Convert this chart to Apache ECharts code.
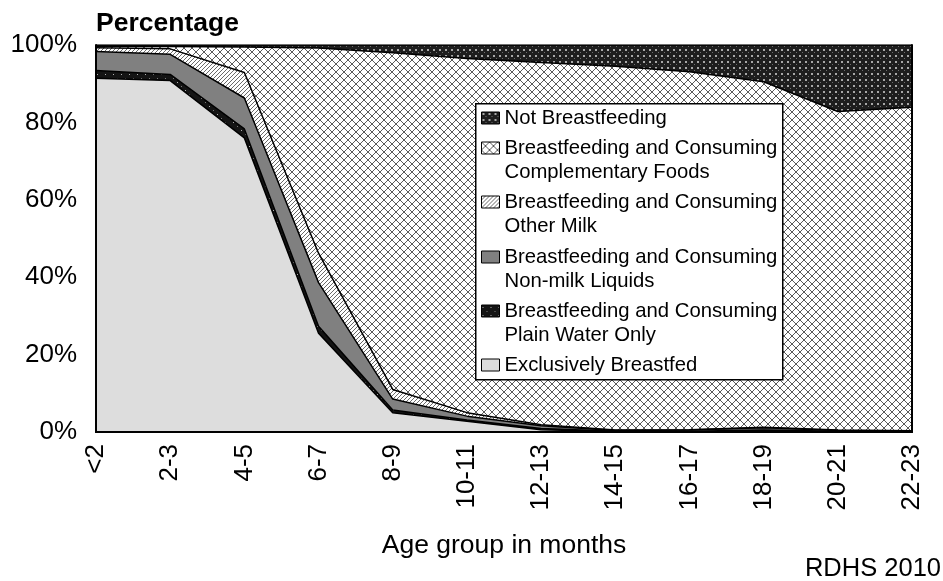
<!DOCTYPE html>
<html><head><meta charset="utf-8">
<script src="https://cdn.jsdelivr.net/npm/echarts@6/dist/echarts.min.js"></script>
<style>html,body{margin:0;padding:0;background:#fff}#c{width:943px;height:581px}</style>
</head><body><div id="c"></div>
<script>
const categories = ['<2','2-3','4-5','6-7','8-9','10-11','12-13','14-15','16-17','18-19','20-21','22-23'];
const exclusive        = [91.4, 90.8, 76.0, 25.5, 5.0, 2.8, 0.6, 0.1, 0.0, 0.0, 0.0, 0.0];
const plainWater       = [2.0, 1.6, 2.3, 1.8, 0.7, 0.3, 0.3, 0.1, 0.2, 0.5, 0.2, 0.1];
const nonMilk          = [4.9, 5.2, 8.0, 11.3, 2.8, 1.0, 0.7, 0.2, 0.3, 0.6, 0.2, 0.1];
const otherMilk        = [1.0, 1.4, 6.6, 7.6, 2.5, 0.9, 0.3, 0.1, 0.1, 0.1, 0.1, 0.1];
const complementary    = [0.4, 0.6, 6.6, 53.0, 87.0, 91.5, 93.6, 94.0, 92.5, 89.3, 82.3, 83.6];
const notBreastfeeding = [0.3, 0.4, 0.5, 0.8, 2.0, 3.5, 4.5, 5.5, 6.9, 9.5, 17.2, 16.1];
const yTicks = [0, 20, 40, 60, 80, 100];

const FONT = "'Liberation Sans', Arial, sans-serif";

function pattern(w, h, draw) {
  const c = document.createElement('canvas');
  c.width = w; c.height = h;
  const g = c.getContext('2d');
  draw(g, w, h);
  return { image: c, repeat: 'repeat' };
}
const pCross = pattern(8, 8, g => {
  g.fillStyle = '#fff'; g.fillRect(0, 0, 8, 8);
  g.fillStyle = '#5a5a5a';
  for (let i = 0; i < 8; i++) { g.fillRect(i, i, 1, 1); g.fillRect(7 - i, i, 1, 1); }
});
const pHatch = pattern(4, 4, g => {
  g.fillStyle = '#fff'; g.fillRect(0, 0, 4, 4);
  g.fillStyle = '#6a6a6a';
  for (let i = 0; i < 4; i++) g.fillRect(3 - i, i, 1, 1);
});
const pNotBF = pattern(6, 6, g => {
  g.fillStyle = '#1e1e1e'; g.fillRect(0, 0, 6, 6);
  g.fillStyle = '#a8a8a8'; g.fillRect(1, 1, 2, 2);
  g.fillStyle = '#707070'; g.fillRect(4, 4, 1, 1);
});
const pWater = pattern(8, 8, g => {
  g.fillStyle = '#141414'; g.fillRect(0, 0, 8, 8);
  g.fillStyle = '#b0b0b0'; g.fillRect(1, 2, 1, 1);
  g.fillStyle = '#7a7a7a'; g.fillRect(5, 6, 1, 1);
});

const defs = [
  { name: 'Exclusively Breastfed', label: 'Exclusively Breastfed', data: exclusive, fill: '#dddddd', two: false },
  { name: 'Breastfeeding and Consuming Plain Water Only', label: 'Breastfeeding and Consuming\nPlain Water Only', data: plainWater, fill: pWater, two: true },
  { name: 'Breastfeeding and Consuming Non-milk Liquids', label: 'Breastfeeding and Consuming\nNon-milk Liquids', data: nonMilk, fill: '#808080', two: true },
  { name: 'Breastfeeding and Consuming Other Milk', label: 'Breastfeeding and Consuming\nOther Milk', data: otherMilk, fill: pHatch, two: true },
  { name: 'Breastfeeding and Consuming Complementary Foods', label: 'Breastfeeding and Consuming\nComplementary Foods', data: complementary, fill: pCross, two: true },
  { name: 'Not Breastfeeding', label: 'Not Breastfeeding', data: notBreastfeeding, fill: pNotBF, two: false }
];

const legendOrder = defs.slice().reverse();
const legendTops = [106, 136, 190, 245, 299, 353];

const legends = legendOrder.map((d, i) => ({
  show: true,
  left: 481,
  top: legendTops[i],
  orient: 'vertical',
  padding: 0,
  itemWidth: 18,
  itemHeight: d.two ? 36 : 12,
  icon: d.two ? 'path://M0,0L18,0L18,12L0,12Z M0,36' : 'rect',
  selectedMode: false,
  z: 20,
  data: [{ name: d.name, itemStyle: { color: d.fill, borderColor: '#000', borderWidth: 1 } }],
  formatter: () => d.label,
  textStyle: { fontSize: 20.3, lineHeight: 24, color: '#000', fontFamily: FONT }
}));

const chart = echarts.init(document.getElementById('c'), null, { renderer: 'canvas' });
chart.setOption({
  animation: false,
  backgroundColor: '#fff',
  textStyle: { fontFamily: FONT },
  title: [
    { text: 'Percentage', left: 96, top: 10, padding: 0,
      textStyle: { fontSize: 26.5, fontWeight: 'bold', color: '#000', fontFamily: FONT } },
    { text: 'RDHS 2010', right: 2, top: 556, padding: 0,
      textStyle: { fontSize: 25.5, fontWeight: 'normal', color: '#000', fontFamily: FONT } }
  ],
  grid: { left: 96, right: 31, top: 45, bottom: 149, containLabel: false },
  legend: legends,
  graphic: [{
    type: 'rect', left: 475, top: 103, z: 10,
    shape: { width: 307, height: 276 },
    style: { fill: '#fff', stroke: '#000', lineWidth: 1.5 }
  }],
  xAxis: [{
    type: 'category', data: categories, boundaryGap: false, z: 5,
    axisLine: { lineStyle: { color: '#000', width: 2 } },
    axisTick: { show: false },
    axisLabel: { rotate: 90, interval: 0, fontSize: 26, color: '#000', margin: 12, fontFamily: FONT },
    name: 'Age group in months', nameLocation: 'middle', nameGap: 100,
    nameTextStyle: { fontSize: 26.5, color: '#000', fontFamily: FONT }
  }, {
    type: 'category', data: categories, boundaryGap: false, position: 'top', z: 5,
    axisLine: { lineStyle: { color: '#000', width: 2 } },
    axisTick: { show: false }, axisLabel: { show: false }
  }],
  yAxis: [{
    type: 'value', min: yTicks[0], max: yTicks[yTicks.length - 1], interval: yTicks[1] - yTicks[0], z: 5,
    axisLine: { show: true, lineStyle: { color: '#000', width: 2 } },
    axisTick: { show: false }, splitLine: { show: false },
    axisLabel: { formatter: '{value}%', fontSize: 26, color: '#000', margin: 19, fontFamily: FONT }
  }, {
    type: 'value', min: yTicks[0], max: yTicks[yTicks.length - 1], position: 'right', z: 5,
    axisLine: { show: true, lineStyle: { color: '#000', width: 2 } },
    axisTick: { show: false }, splitLine: { show: false }, axisLabel: { show: false }
  }],
  series: defs.map(d => ({
    name: d.name, type: 'line', stack: 'total', data: d.data,
    xAxisIndex: 0, yAxisIndex: 0,
    symbol: 'none', showSymbol: false, smooth: false,
    lineStyle: { color: '#000', width: 1.5 },
    itemStyle: { color: d.fill },
    areaStyle: { color: d.fill, opacity: 1 },
    emphasis: { disabled: true },
    z: 2
  }))
});
</script>
</body></html>
